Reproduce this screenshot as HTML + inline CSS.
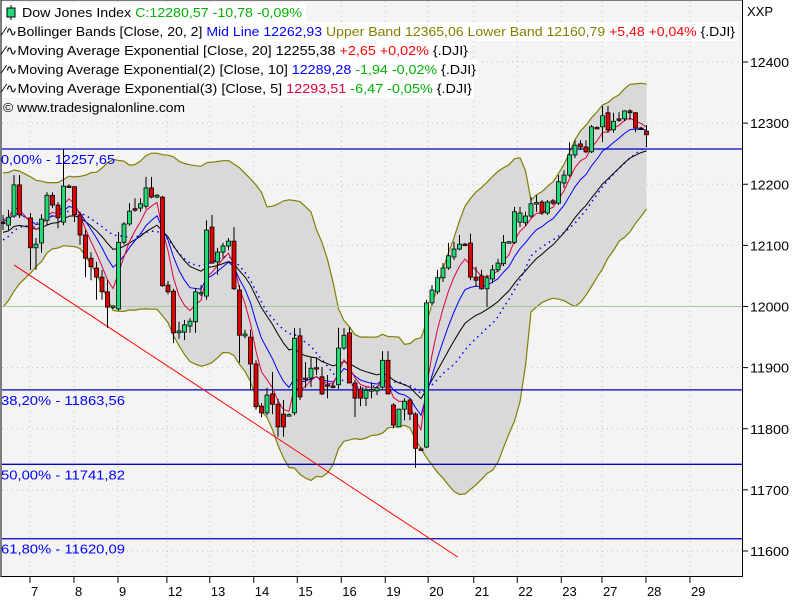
<!DOCTYPE html>
<html><head><meta charset="utf-8"><style>
html,body{margin:0;padding:0;background:#fff;}
svg{display:block;font-family:"Liberation Sans",sans-serif;}
</style></head><body>
<svg id="chart" width="800" height="600" viewBox="0 0 800 600">
<rect x="0" y="0" width="800" height="600" fill="#ffffff"/>
<rect x="1" y="0" width="741.5" height="576.5" fill="#f4f4f4" stroke="#000" stroke-width="1"/>
<g id="grid"></g>
<g id="band"></g>
<g id="hlines"></g>
<g id="inds"></g>
<g id="candles"></g>
<g id="axes"></g>
<g id="legend" font-size="13">
  <rect x="2" y="3" width="304" height="19" fill="#fff"/>
  <line x1="11" y1="5" x2="11" y2="20" stroke="#000"/>
  <rect x="7" y="8" width="8" height="9" fill="#22dd77" stroke="#000"/>
  <text x="22" y="17" textLength="280" lengthAdjust="spacingAndGlyphs">Dow Jones Index <tspan fill="#00b000">C:12280,57 -10,78 -0,09%</tspan></text>
  <rect x="2" y="22" width="736" height="19" fill="#fff"/>
  <text x="3" y="36" textLength="732" lengthAdjust="spacingAndGlyphs">∕∿Bollinger Bands [Close, 20, 2] <tspan fill="#0000ff">Mid Line 12262,93</tspan> <tspan fill="#808000">Upper Band 12365,06 Lower Band 12160,79</tspan> <tspan fill="#ff0000">+5,48 +0,04%</tspan> {.DJI}</text>
  <rect x="2" y="41" width="468" height="19" fill="#fff"/>
  <text x="3" y="55" textLength="465" lengthAdjust="spacingAndGlyphs">∕∿Moving Average Exponential [Close, 20] 12255,38 <tspan fill="#ff0000">+2,65 +0,02%</tspan> {.DJI}</text>
  <rect x="2" y="60" width="476" height="19" fill="#fff"/>
  <text x="3" y="74" textLength="473" lengthAdjust="spacingAndGlyphs">∕∿Moving Average Exponential(2) [Close, 10] <tspan fill="#0000ff">12289,28</tspan> <tspan fill="#00b000">-1,94 -0,02%</tspan> {.DJI}</text>
  <rect x="2" y="79" width="472" height="19" fill="#fff"/>
  <text x="3" y="93" textLength="469" lengthAdjust="spacingAndGlyphs">∕∿Moving Average Exponential(3) [Close, 5] <tspan fill="#e0003c">12293,51</tspan> <tspan fill="#00b000">-6,47 -0,05%</tspan> {.DJI}</text>
  <text x="3" y="112" textLength="182" lengthAdjust="spacingAndGlyphs">© www.tradesignalonline.com</text>
</g>
<text x="747" y="16" font-size="13">XXP</text>
</svg>
<script>
const opens=[12138,12133,12148,12199,null,12145,12096,12104,12141,12182,12166,12138,12197,12196,12150,12117,12079,12063,12048,12024,11999,11996,12105,12135,12160,12161,12164,12194,12179,12179,12035,12025,11957,11958,11968,11975,12022,12017,12130,12073,12089,12099,12107,12027,11952,11950,11906,11837,11826,11857,11840,11824,11822,11826,11952,11883,11883,11900,11885,11872,11870,11872,11932,11957,11875,11865,11850,11863,11862,11868,11912,11839,11803,11832,11847,11824,11767,11770,12006,12024,12047,12063,12081,12094,12102,12104,12048,12050,12029,12045,12060,12070,12105,12105,12138,12137,12148,12169,12171,12153,12173,12169,12202,12215,12248,12266,12261,12253,12293,12294,12317,12289,12307,12307,12320,12317,12292,12287];
const highs=[12150,12158,12215,12215,null,12153,12112,12151,12187,12187,12171,12257,12200,12197,12155,12125,12089,12073,12060,12043,12002,12122,12138,12169,12177,12177,12212,12212,12184,12181,12042,12029,11975,11978,11981,12030,12035,12141,12150,12096,12104,12112,12130,12035,11962,11962,11912,11842,11867,11893,11849,11847,11825,11965,11965,11909,11917,11917,11901,11888,11875,11965,11965,11966,11880,11870,11868,11876,11870,11927,11927,11842,11833,11850,11850,11827,11770,12011,12035,12060,12071,12104,12106,12117,12104,12119,12065,12060,12052,12068,12078,12117,12107,12163,12163,12155,12179,12182,12174,12174,12176,12215,12223,12269,12272,12272,12272,12297,12295,12328,12328,12317,12318,12321,12323,12318,12294,12297];
const lows=[12125,12125,12145,12145,null,12060,12060,12088,12133,12161,12128,12133,12194,12138,12101,12048,12043,12011,12011,11965,11996,11993,12101,12132,12155,12155,12160,12177,12177,12032,12020,11940,11947,11945,11957,11957,12017,12011,12070,12052,12079,12092,12027,11908,11948,11863,11831,11819,11822,11824,11787,11787,11821,11822,11847,11867,11868,11888,11855,11850,11866,11865,11929,11874,11819,11837,11837,11850,11855,11863,11856,11801,11802,11814,11814,11736,11764,11768,12002,12020,12040,12060,12076,12092,12099,12043,12032,12027,11999,12038,12056,12066,12104,12102,12130,12132,12145,12155,12150,12150,12166,12166,12194,12212,12243,12256,12251,12251,12290,12269,12284,12284,12302,12303,12305,12285,12290,12261];
const closes=[12137,12146,12199,12150,null,12096,12102,12143,12182,12166,12145,12197,12196,12150,12117,12079,12065,12048,12024,11999,12001,12105,12135,12156,12159,12168,12194,12179,12182,12034,12024,11957,11960,11970,11976,12024,12023,12125,12071,12089,12099,12107,12029,11953,11955,11906,11836,11826,11855,11840,11803,11803,11823,11948,11852,11882,11899,11899,11857,11871,11869,11932,11953,11875,11850,11850,11863,11864,11867,11912,11857,11806,11832,11845,11824,11768,11766,12006,12027,12047,12063,12083,12094,12102,12101,12048,12043,12029,12047,12060,12071,12105,12106,12155,12153,12148,12168,12170,12153,12171,12169,12204,12215,12248,12264,12261,12253,12294,12292,12312,12289,12303,12306,12320,12317,12292,12292,12281];
const priorCloses=[12060,12030,12010,12040,12020,12050,12080,12060,12100,12130,12110,12150,12170,12140,12180,12160,12190,12150,12140,12130];
const dayLabels=["7","8","9","12","13","14","15","16","19","20","21","22","23","27","28","29"];
const dayPos=[4.9,12.9,20.9,29.8,37.6,45.6,53.5,61.5,69.5,77.3,85.6,93.5,101.5,108.9,116.9,124.9];
const yTicks=[12400,12300,12200,12100,12000,11900,11800,11700,11600];
const fibValues=[12257.65,11863.56,11741.82,11620.09];
const fibLabels=["0,00% - 12257,65","38,20% - 11863,56","50,00% - 11741,82","61,80% - 11620,09"];
const fibLabelLen=[114,124,124,124];
const levelLine=[12000];
const trendStart=[2,12068];
const trendEnd=[82.7,11590];

const NS="http://www.w3.org/2000/svg";
const X=i=>3+5.5*i;
const Y=v=>62+(12400-v)*0.61125;
function mk(tag,attrs,parent){const e=document.createElementNS(NS,tag);for(const k in attrs)e.setAttribute(k,attrs[k]);parent.appendChild(e);return e;}
const G=id=>document.getElementById(id);

yTicks.forEach(v=>{const l=mk('line',{x1:2,x2:742,y1:Y(v),y2:Y(v),stroke:'#b4c8b4','stroke-dasharray':'1,4'},G('grid'));

});
dayPos.forEach(p=>{const l=mk('line',{x1:X(p),x2:X(p),y1:1,y2:576,stroke:'#b4c8b4','stroke-dasharray':'1,4'},G('grid'));

});

const seq=[];const idx=[];
priorCloses.forEach(c=>{seq.push(c);idx.push(-1);});
closes.forEach((c,i)=>{if(c!==null){seq.push(c);idx.push(i);}});
const up=[],lo=[],mid=[];
for(let k=19;k<seq.length;k++){const w=seq.slice(k-19,k+1);const m=w.reduce((a,b)=>a+b,0)/20;const sd=Math.sqrt(w.reduce((a,b)=>a+(b-m)*(b-m),0)/20);
 if(idx[k]>=0){up.push([idx[k],m+2*sd]);lo.push([idx[k],m-2*sd]);mid.push([idx[k],m]);}}
function ema(n){const a=2/(n+1);let e=seq[0];const out=[];seq.forEach((c,k)=>{e=k===0?c:e+a*(c-e);if(idx[k]>=0)out.push([idx[k],e]);});return out;}
const pts=arr=>arr.map(p=>X(p[0]).toFixed(1)+','+Y(p[1]).toFixed(1)).join(' ');
const poly=mk('polygon',{points:pts(up)+' '+pts(lo.slice().reverse()),fill:'#d9d9d9',stroke:'none'},G('band'));


const ub=mk('polyline',{points:pts(up),fill:'none',stroke:'#808000','stroke-width':1.2},G('band'));


const lb=mk('polyline',{points:pts(lo),fill:'none',stroke:'#808000','stroke-width':1.2},G('band'));



levelLine.forEach(v=>{const l=mk('line',{x1:2,x2:742,y1:Y(v),y2:Y(v),stroke:'#a8c8a0'},G('hlines'));

});
fibValues.forEach((v,k)=>{const l=mk('line',{x1:2,x2:742,y1:Y(v),y2:Y(v),stroke:'#0000c0','stroke-width':1.3},G('hlines'));


const t=mk('text',{x:1,y:Y(v)+15,fill:'#0000ff','font-size':13,textLength:fibLabelLen[k],lengthAdjust:'spacingAndGlyphs'},G('hlines'));t.textContent=fibLabels[k];

});
const tl=mk('line',{x1:X(trendStart[0]),y1:Y(trendStart[1]),x2:X(trendEnd[0]),y2:Y(trendEnd[1]),stroke:'#ff0000'},G('hlines'));



const md=mk('polyline',{points:pts(mid),fill:'none',stroke:'#0000ff','stroke-width':1.5,'stroke-dasharray':'1.5,4'},G('inds'));


const e20=mk('polyline',{points:pts(ema(20)),fill:'none',stroke:'#000'},G('inds'));


const e10=mk('polyline',{points:pts(ema(10)),fill:'none',stroke:'#0000ff'},G('inds'));


const e5=mk('polyline',{points:pts(ema(5)),fill:'none',stroke:'#e0003c'},G('inds'));



closes.forEach((c,i)=>{if(c===null)return;const o=opens[i],h=highs[i],l=lows[i];const x=X(i);
 const g=mk('g',{},G('candles'));
 
 
 mk('line',{x1:x,x2:x,y1:Y(h),y2:Y(l),stroke:'#000'},g);
 const top=Y(Math.max(o,c)),bot=Y(Math.min(o,c));
 const col=c>o?'#22dd77':(c<o?'#e00000':'#000');
 mk('rect',{x:x-2,y:top,width:4,height:Math.max(bot-top,1.5),fill:col,stroke:'#000','stroke-width':0.8},g);});

yTicks.forEach(v=>{mk('line',{x1:743,x2:748,y1:Y(v),y2:Y(v),stroke:'#000'},G('axes'));
 const t=mk('text',{x:750,y:Y(v)+5,'font-size':13,textLength:39,lengthAdjust:'spacingAndGlyphs'},G('axes'));t.textContent=v;
 
 });
dayPos.forEach((p,k)=>{mk('line',{x1:X(p),x2:X(p),y1:577,y2:583,stroke:'#000'},G('axes'));
 const t=mk('text',{x:X(p)+1,y:596,'font-size':13},G('axes'));t.textContent=dayLabels[k];
 
 });
</script>
</body></html>
